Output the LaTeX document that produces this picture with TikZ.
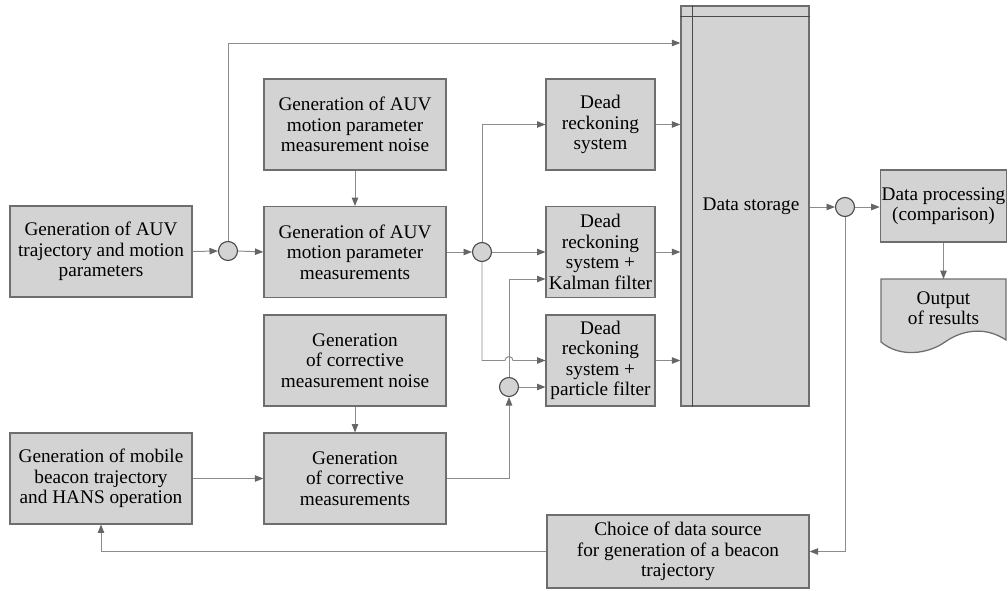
\documentclass[tikz,border=0pt]{standalone}
\usepackage{fontspec}
\setmainfont{Liberation Serif}
\definecolor{fbFill}{HTML}{D3D3D3}
\definecolor{fbEdge}{HTML}{6E6E6E}
\definecolor{fbDark}{HTML}{4A4A4A}
\definecolor{fbLine}{HTML}{8C8C8C}
\definecolor{fbTip}{HTML}{666666}
\usetikzlibrary{calc,positioning,arrows.meta}

\begin{document}
\begin{tikzpicture}[x=0.025cm, y=-0.025cm,
    every node/.style={font=\fontsize{13.7}{14.6}\selectfont},
    block/.style={draw=fbEdge, fill=fbFill, line width=0.9pt, align=center, inner sep=1pt},
    wide/.style={block, minimum width=4.55cm, minimum height=2.27cm},
    narrow/.style={block, minimum width=2.72cm, minimum height=2.27cm},
    junction/.style={circle, draw=fbDark, fill=fbFill, line width=0.8pt, minimum size=0.475cm, inner sep=0pt},
    link/.style={draw=fbLine, line width=0.7pt, -{Triangle[length=6pt,width=4.6pt,color=fbTip]}},
    wire/.style={draw=fbLine, line width=0.7pt}]
  \useasboundingbox (0,0) rectangle (1008,591);

  % generators
  \node[wide] (traj) at (101,251.5) {Generation of AUV\\trajectory and motion\\parameters};
  \node[wide] (noiseA) at (355,124.5) {Generation of AUV\\motion parameter\\measurement noise};
  \node[wide] (measA) at (355,252) {Generation of AUV\\motion parameter\\measurements};
  \node[wide] (noiseC) at (355,360.5) {Generation\\of corrective\\measurement noise};
  \node[wide] (corr) at (355,478.5) {Generation\\of corrective\\measurements};
  \node[wide] (mobile) at (101,478.5) {Generation of mobile\\beacon trajectory\\and HANS operation};

  % navigation systems
  \node[narrow] (dr) at (600.5,124.5) {Dead\\reckoning\\system};
  \node[narrow] (kal) at (600.5,252) {Dead\\reckoning\\system +\\Kalman filter};
  \node[narrow] (part) at (600.5,360.5) {Dead\\reckoning\\system +\\particle filter};

  % storage and processing
  \node[block, minimum width=3.2cm, minimum height=10cm] (store) at (745,206) {\hspace*{0.3cm}Data storage};
  \draw[fbDark, line width=0.8pt] ($(store.north west)+(12,0)$) -- ($(store.south west)+(12,0)$);
  \draw[fbDark, line width=0.8pt] ($(store.north west)+(0,11)$) -- ($(store.north east)+(0,11)$);
  \node[block, minimum width=3.125cm, minimum height=1.8cm] (proc) at (943.5,206) {Data processing\\(comparison)};
  \node[block, minimum width=6.55cm, minimum height=1.82cm] (choice) at (678,551.5) {Choice of data source\\for generation of a beacon\\trajectory};

  % output document
  \coordinate (outtop) at (943.5,279);
  \draw[fbEdge, fill=fbFill, line width=0.9pt] (881,279) -- (1006,279) -- (1006,340)
    .. controls (985,326) and (962,330) .. (945,342)
    .. controls (928,354) and (900,358) .. (881,342) -- cycle;
  \node[align=center] (out) at (943.5,308) {Output\\of results};

  % junctions
  \node[junction] (c1) at (228,251) {};
  \node[junction] (c2) at (482,252) {};
  \node[junction] (c3) at (509,387) {};
  \node[junction] (c4) at (845,207) {};

  % connectors
  \coordinate (toprun) at (228,43);
  \draw[link] (traj.east) -- (c1.west);
  \draw[link] (c1.east) -- (measA.west);
  \draw[link] (c1.north) -- (toprun) -- (toprun -| store.west);
  \draw[link] (noiseA.south) -- (measA.north);
  \draw[link] (measA.east) -- (c2.west);
  \draw[link] (c2.north) |- (dr.west);
  \draw[link] (c2.east) -- (kal.west);
  \draw[link] (c2.south) |- ($(c3.center |- part.west)+(-4,0)$)
    arc[start angle=180, end angle=360, radius=4] -- (part.west);
  \draw[link] (noiseC.south) -- (corr.north);
  \draw[link] (mobile.east) -- (corr.west);
  \draw[link] (corr.east) -| (c3.south);
  \draw[link] (c3.north) |- ($(kal.west)+(0,27)$);
  \draw[link] (c3.east) -- (c3.east -| part.west);
  \draw[link] (dr.east) -- (dr.east -| store.west);
  \draw[link] (kal.east) -- (kal.east -| store.west);
  \draw[link] (part.east) -- (part.east -| store.west);
  \draw[link] (c4 -| store.east) -- (c4.west);
  \draw[link] (c4.east) -- (c4.east -| proc.west);
  \draw[link] (proc.south) -- (outtop);
  \draw[link] (c4.south) |- (choice.east);
  \draw[link] (choice.west) -| (mobile.south);
\end{tikzpicture}
\end{document}
